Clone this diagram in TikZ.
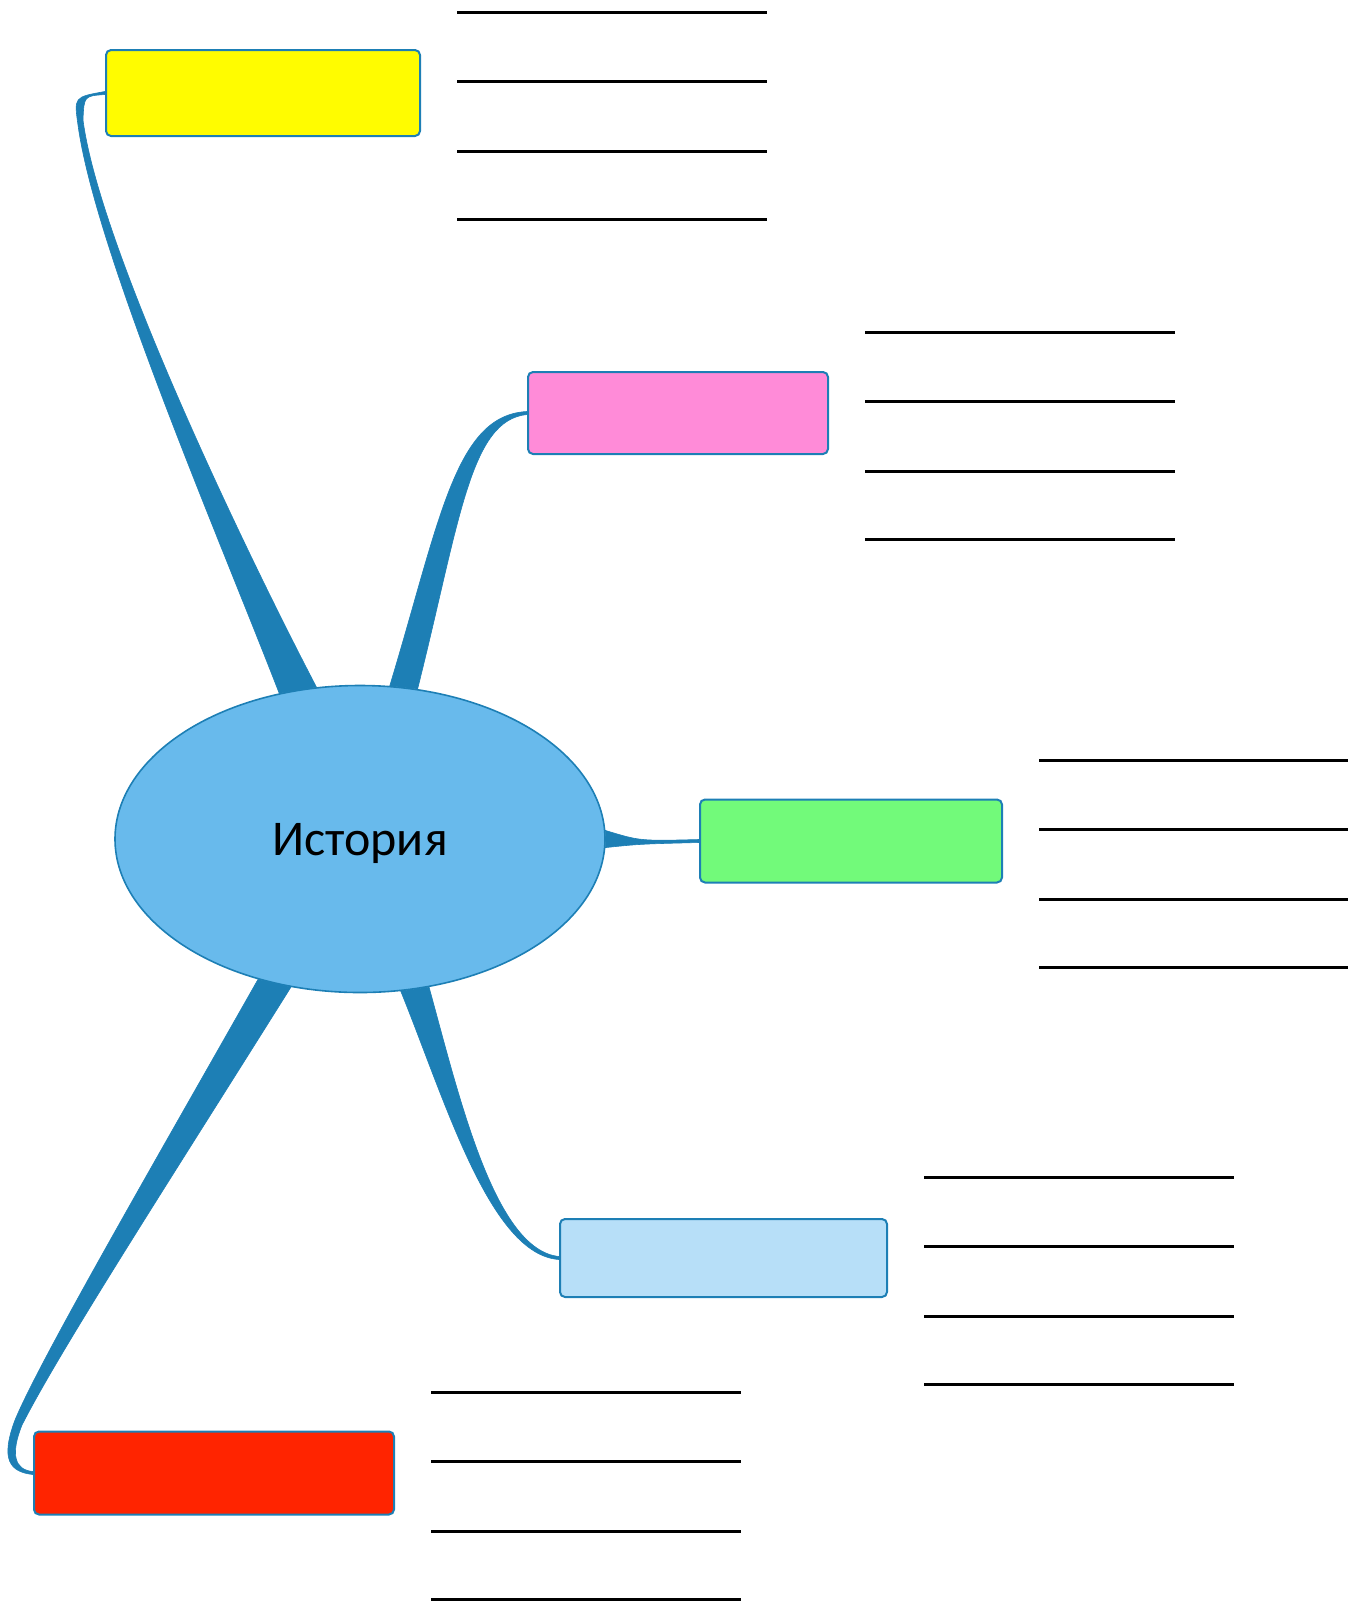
\documentclass[tikz,border=0pt]{standalone}
\usepackage{fontspec}
\setmainfont{Carlito}
\usetikzlibrary{shapes.geometric,calc,backgrounds}
\definecolor{branchblue}{RGB}{29,127,181}
\definecolor{topicblue}{RGB}{104,186,236}
\definecolor{boxyellow}{RGB}{255,252,0}
\definecolor{boxpink}{RGB}{255,139,216}
\definecolor{boxgreen}{RGB}{114,250,122}
\definecolor{boxlight}{RGB}{183,223,248}
\definecolor{boxred}{RGB}{255,36,0}
\tikzset{
topic/.style={
  ellipse,
  draw=branchblue,
  line width=0.8pt,
  fill=topicblue,
  minimum width=245pt,
  minimum height=153.5pt,
  inner sep=0pt,
  text depth=0pt,
  font=\fontsize{25}{29}\selectfont
  },
subbox/.style={
  draw=branchblue,
  line width=1pt,
  rounded corners=2.5pt,
  inner sep=0pt,
  minimum height=41pt
  },
branch/.style={fill=branchblue, draw=branchblue, line width=0.3pt},
blank/.style={draw=black, line width=1.5pt},
%note/.style={font=\small}
}

\begin{document}
\begin{tikzpicture}[x=0.5pt, y=-0.5pt]
    \useasboundingbox (0,0) rectangle (1348,1603);
    \node [topic] (hist) at (360,839) {История};
    \node [subbox, fill=boxyellow, minimum width=157pt, minimum height=43pt] (yel) at (263,93) {};
    \node [subbox, fill=boxpink, minimum width=150pt] (pnk) at (678,413) {};
    \node [subbox, fill=boxgreen, minimum width=151pt, minimum height=41.5pt] (grn) at (851,841) {};
    \node [subbox, fill=boxlight, minimum width=163.5pt, minimum height=39pt] (lbl) at (723.5,1258) {};
    \node [subbox, fill=boxred, minimum width=180pt, minimum height=41.5pt] (rd) at (214,1473) {};

    \begin{scope}[on background layer]
        \fill [branch] (hist.119) .. controls (220,540) and (95,250) .. (78,125)
            .. controls (74,97) .. ($(yel.west)+(0,-1.5)$) -- ($(yel.west)+(0,1.5)$)
            .. controls (84,96) .. (83,120) .. controls (100,250) and (250,560) .. (hist.106) -- cycle;
        \fill [branch] (hist.79) .. controls (440,520) and (455,415) .. ($(pnk.west)+(0,-1.5)$)
            -- ($(pnk.west)+(0,1.5)$) .. controls (470,420) and (460,520) .. (hist.69) -- cycle;
        \fill [branch] (hist.2) .. controls (640,841) .. ($(grn.west)+(0,-1.5)$)
            -- ($(grn.west)+(0,1.5)$) .. controls (640,844) .. (hist.-2) -- cycle;
        \fill [branch] (hist.-75) .. controls (445,1100) and (490,1255) .. ($(lbl.west)+(0,1.5)$)
            -- ($(lbl.west)+(0,-1.5)$) .. controls (495,1250) and (460,1100) .. (hist.-65) -- cycle;
        \fill [branch] (hist.234) .. controls (150,1170) and (40,1360) .. (15,1420)
            .. controls (0,1460) and (10,1472) .. ($(rd.west)+(0,1.5)$) -- ($(rd.west)+(0,-1.5)$)
            .. controls (15,1470) and (10,1455) .. (22,1425) .. controls (60,1350) and (170,1180) .. (hist.245) -- cycle;
    \end{scope}

    \foreach \b in {yel, pnk, grn, lbl, rd}
    {
        \foreach \dy in {-81, -12, 58, 126}
        {
            \draw [blank] ($(\b.east)+(36,\dy)$) -- ++(310,0);
        }
    }
\end{tikzpicture}
\end{document}
